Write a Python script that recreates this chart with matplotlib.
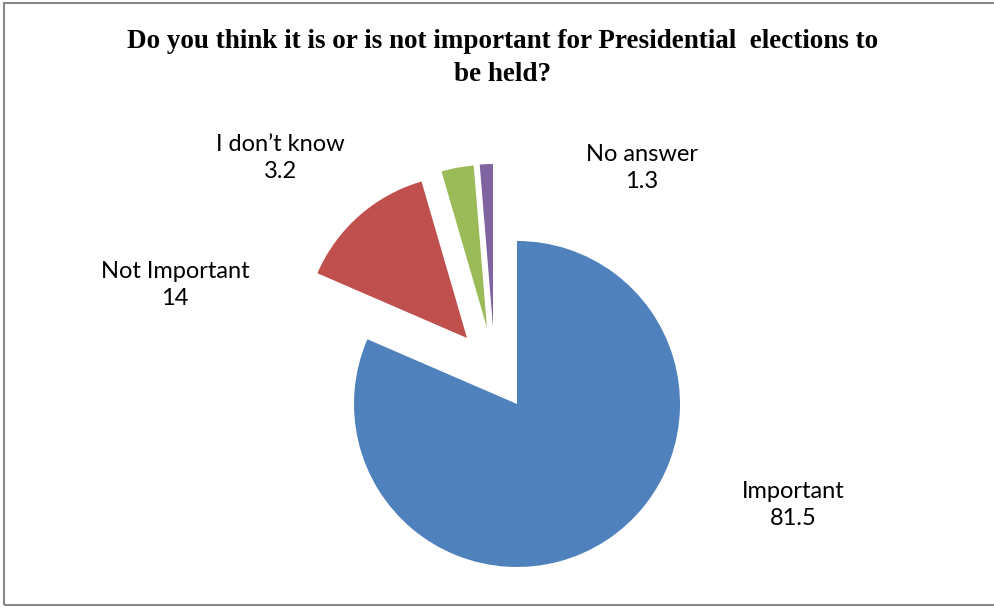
import matplotlib.pyplot as plt
from matplotlib.patches import Rectangle

# data
categories = ['Important', 'Not Important', 'I don\u2019t know', 'No answer']
values = [81.5, 14, 3.2, 1.3]
value_labels = ['81.5', '14', '3.2', '1.3']

colors = ['#4F81BD', '#C0504D', '#9BBB59', '#8064A2']
# pixel offsets of the pulled-out slices (x right, y up)
slice_shift = [(0, 0), (-50, 66), (-30, 76), (-24, 77)]
label_pos = [(793, 505), (175, 285), (280, 158), (642, 168)]

W, H = 994, 607
CX, CY, R = 517, H - 404, 163

fig = plt.figure(figsize=(W / 100, H / 100), dpi=100)
ax = fig.add_axes([0, 0, 1, 1])

wedges, _ = ax.pie(values, colors=colors, startangle=90, counterclock=False,
                   radius=R, center=(CX, CY), frame=True,
                   wedgeprops=dict(linewidth=0))
for w, (dx, dy) in zip(wedges, slice_shift):
    w.set_center((CX + dx, CY + dy))
ax.set_xlim(0, W)
ax.set_ylim(0, H)
ax.set_aspect('auto')
ax.axis('off')

for cat, val, (x, y) in zip(categories, value_labels, label_pos):
    ax.text(x, H - y, f"{cat}\n{val}", ha='center', va='center',
            fontsize=17, family='Lato', linespacing=1.32, color='black')

fig.text(503 / W, 1 - 58 / H,
         "Do you think it is or is not important for Presidential  elections to\nbe held?",
         ha='center', va='center', fontsize=19.5, fontweight='bold',
         family='Liberation Serif', linespacing=1.4)

fig.patches.append(Rectangle((4 / W, 2 / H), 1.0, 1 - 5 / H, transform=fig.transFigure,
                             fill=False, edgecolor='#888888', linewidth=1.5))

fig.savefig('out.png', dpi=100)
